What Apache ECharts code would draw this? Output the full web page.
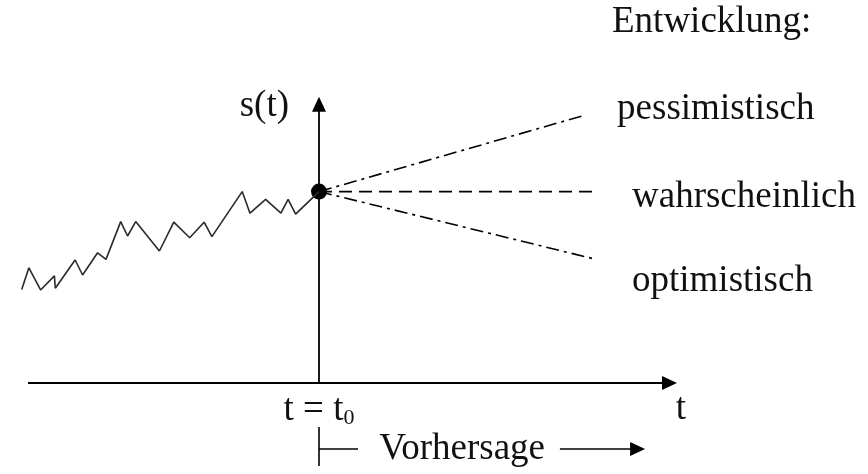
<!DOCTYPE html>
<html>
<head>
<meta charset="utf-8">
<script src="https://cdn.jsdelivr.net/npm/echarts@6/dist/echarts.min.js"></script>
<style>
	html, body { margin: 0; padding: 0; background: #fff; }
	#chart { width: 868px; height: 474px; }
</style>
</head>
<body>
<div id="chart"></div>
<script>
// Verlauf s(t) bis zum Zeitpunkt t0 (t0 = 0)
var histT = [-9.91, -9.67, -9.28, -8.82, -8.79, -8.13, -7.88, -7.38, -7.10, -6.61, -6.38, -6.11,
	-5.32, -4.84, -4.31, -3.83, -3.57, -2.56, -2.30, -1.78, -1.27, -1.03, -0.78, 0];
var histS = [3.12, 3.84, 3.10, 3.57, 3.16, 4.10, 3.60, 4.34, 4.12, 5.38, 4.90, 5.38,
	4.40, 5.36, 4.84, 5.36, 4.88, 6.38, 5.66, 6.12, 5.66, 6.12, 5.63, 6.38];

// Startpunkt der Vorhersage
var t0 = 0;
var s0 = 6.38;

// Szenarien
var scenarios = ["pessimistisch", "wahrscheinlich", "optimistisch"];
var scenarioEndT = [8.87, 9.3, 9.2];
var scenarioEndS = [8.93, 6.38, 4.13];

// t-Achse (Anfang, Pfeil)
var tAxisT = [-9.7, 11.683];

// Vorhersage-Pfeil unter der t-Achse
var forecastS = -2.2;
var forecastBracketS = [-1.47, -2.77];
var forecastDashT = [0, 1.3];
var forecastArrowT = [8.03, 10.62];
var forecastTextT = 4.77;

var FONT = "Liberation Serif";
var INK = "#111";
var FS = 37;

var chart = echarts.init(document.getElementById("chart"));

function endLabel(name, distance, dy) {
	return {
		show: true,
		formatter: name,
		distance: distance,
		offset: [0, dy],
		color: INK,
		fontFamily: FONT,
		fontSize: FS
	};
}

function arrowLine(data, width) {
	return {
		type: "line",
		data: [
			data[0],
			{ value: data[1], symbol: "triangle", symbolSize: [14, 15], symbolRotate: -90 }
		],
		symbol: "none",
		showSymbol: true,
		clip: false,
		silent: true,
		itemStyle: { color: "#000", opacity: 1 },
		lineStyle: { color: "#000", width: width }
	};
}

var labelStyle = [
	{ distance: 32, dy: -6 },
	{ distance: 34, dy: 6 },
	{ distance: 37, dy: 22 }
];
var scenarioDash = [[13, 5, 3, 5], [13, 7], [13, 5, 3, 5]];

var series = [{
	type: "line",
	data: histT.map(function(t, i) { return [t, histS[i]]; }),
	symbol: "none",
	clip: false,
	silent: true,
	lineStyle: { color: "#2a2a2a", width: 1.6 }
}];

scenarios.forEach(function(name, i) {
	series.push({
		type: "line",
		name: name,
		data: [[t0, s0], [scenarioEndT[i], scenarioEndS[i]]],
		symbol: "none",
		clip: false,
		silent: true,
		lineStyle: { color: "#000", width: 1.6, type: scenarioDash[i] },
		endLabel: endLabel(name, labelStyle[i].distance, labelStyle[i].dy)
	});
});

series.push({
	type: "scatter",
	data: [[t0, s0]],
	symbolSize: 16,
	clip: false,
	silent: true,
	itemStyle: { color: "#000", opacity: 1 }
});

// t-Achse mit Pfeil
series.push(arrowLine([[tAxisT[0], 0], [tAxisT[1], 0]], 1.8));

// Vorhersage
series.push({
	type: "line",
	data: forecastBracketS.map(function(s) { return [t0, s]; }),
	symbol: "none",
	clip: false,
	silent: true,
	lineStyle: { color: "#000", width: 1.6 }
});
series.push({
	type: "line",
	data: forecastDashT.map(function(t) { return [t, forecastS]; }),
	symbol: "none",
	clip: false,
	silent: true,
	lineStyle: { color: "#000", width: 1.6 }
});
series.push(arrowLine([[forecastArrowT[0], forecastS], [forecastArrowT[1], forecastS]], 1.6));
series.push({
	type: "scatter",
	data: [[forecastTextT, forecastS]],
	symbolSize: 1,
	clip: false,
	silent: true,
	itemStyle: { color: "rgba(0,0,0,0)", opacity: 1 },
	label: {
		show: true,
		position: "inside",
		formatter: "Vorhersage",
		color: INK,
		fontFamily: FONT,
		fontSize: FS
	}
});

var option = {
	backgroundColor: "#fff",
	animation: false,
	title: {
		text: "Entwicklung:",
		left: 612,
		top: 4,
		padding: 0,
		textStyle: { color: INK, fontFamily: FONT, fontSize: FS, fontWeight: "normal" }
	},
	grid: { left: 13, right: 198.5, top: 104.2, bottom: 91 },
	xAxis: {
		type: "value",
		min: -10.2,
		max: 11.683,
		name: "t",
		nameLocation: "end",
		nameGap: 11.5,
		nameTextStyle: {
			color: INK, fontFamily: FONT, fontSize: FS,
			align: "center", verticalAlign: "top", padding: [8, 0, 0, 0]
		},
		axisLine: { show: false },
		axisTick: { show: false },
		splitLine: { show: false },
		axisLabel: {
			customValues: [t0],
			margin: 9,
			formatter: function() { return "{a|t = t}{b|0}"; },
			rich: {
				a: { color: INK, fontFamily: FONT, fontSize: FS },
				b: { color: INK, fontFamily: FONT, fontSize: 22, verticalAlign: "bottom", padding: [12, 0, 0, 0] }
			}
		}
	},
	yAxis: {
		type: "value",
		min: 0,
		max: 9.293,
		name: "s(t)",
		nameLocation: "end",
		nameGap: -2,
		nameTextStyle: {
			color: INK, fontFamily: FONT, fontSize: FS,
			align: "right", verticalAlign: "middle", padding: [0, 30, 0, 0]
		},
		axisLine: {
			onZero: true,
			symbol: ["none", "triangle"],
			symbolSize: [14, 15],
			lineStyle: { color: "#000", width: 1.8 }
		},
		axisTick: { show: false },
		axisLabel: { show: false },
		splitLine: { show: false }
	},
	series: series
};

chart.setOption(option);
</script>
</body>
</html>
